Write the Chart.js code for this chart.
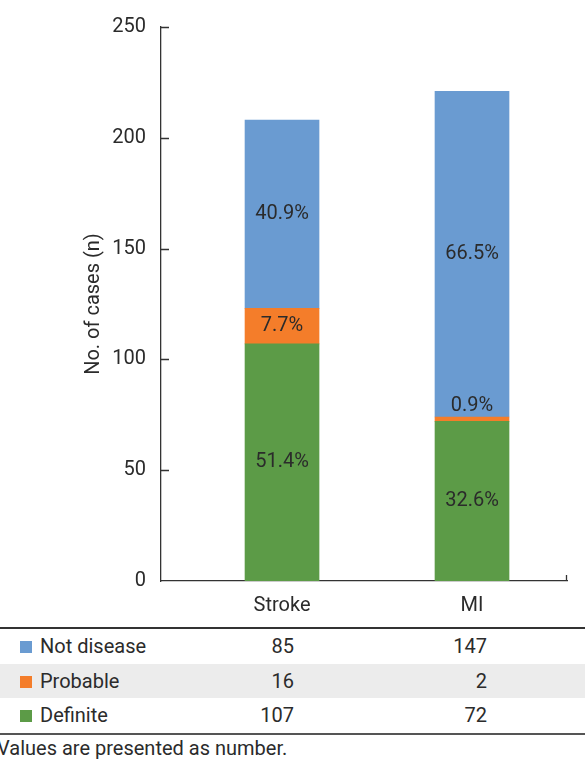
<!DOCTYPE html>
<html>
<head>
<meta charset="utf-8">
<script src="https://cdn.jsdelivr.net/npm/chart.js@4.4.0/dist/chart.umd.min.js"></script>
<style>
  body { margin: 0; background: #fff; font-family: "Liberation Sans Narrow", "Roboto", sans-serif; color: #2b2b2b; }
  #wrap { position: relative; width: 585px; height: 762px; overflow: hidden; }
  #chart { position: absolute; left: 0; top: 0; }
  #tbl { position: absolute; left: 0; top: 627px; width: 585px; border-top: 2px solid #333; border-bottom: 2px solid #555; }
  .row { position: relative; height: 34.5px; font-size: 20px; line-height: 34.5px; }
  .row.alt { background: #ececec; }
  .mark { position: absolute; left: 20px; top: 12px; width: 12px; height: 12px; }
  .name { position: absolute; left: 40px; }
  .val { position: absolute; text-align: right; width: 60px; }
  #note { position: absolute; left: -3px; top: 736px; font-size: 20px; }
</style>
</head>
<body>
<div id="wrap">
  <canvas id="chart" width="585" height="623"></canvas>
  <div id="tbl"></div>
  <div id="note">Values are presented as number.</div>
</div>
<script>
var categories = ["Stroke", "MI"];
var definite = [107, 72];
var probable = [16, 2];
var notDisease = [85, 147];
var yTicks = [0, 50, 100, 150, 200, 250];

var series = [
    { label: "Definite", data: definite, color: "#5c9b47" },
    { label: "Probable", data: probable, color: "#f47d2a" },
    { label: "Not disease", data: notDisease, color: "#6a9bd1" }
];

var fontName = '"Liberation Sans Narrow", "Roboto", sans-serif';
var textColor = "#2b2b2b";

// percentage labels drawn inside each segment
var pctLabels = {
    id: "pctLabels",
    afterDatasetsDraw: function (chart) {
        var ctx = chart.ctx;
        ctx.save();
        ctx.font = "20px " + fontName;
        ctx.fillStyle = textColor;
        ctx.textAlign = "center";
        ctx.textBaseline = "middle";
        chart.data.datasets.forEach(function (ds, di) {
            chart.getDatasetMeta(di).data.forEach(function (bar, i) {
                var total = 0;
                series.forEach(function (s) { total += s.data[i]; });
                var txt = (ds.data[i].y / total * 100).toFixed(1) + "%";
                var h = bar.base - bar.y;
                var y = h < 20 ? bar.y - 11 : (bar.y + bar.base) / 2;
                ctx.fillText(txt, bar.x, y);
            });
        });
        ctx.restore();
    }
};

// inward ticks on the y axis and the little end tick on x
var axisMarks = {
    id: "axisMarks",
    afterDraw: function (chart) {
        var ctx = chart.ctx, ya = chart.scales.y, area = chart.chartArea;
        ctx.save();
        ctx.strokeStyle = "#333";
        ctx.lineWidth = 1.3;
        ctx.beginPath();
        yTicks.forEach(function (v) {
            if (v === 0) return;
            var p = Math.round(ya.getPixelForValue(v)) + 0.5;
            ctx.moveTo(area.left, p);
            ctx.lineTo(area.left + 8, p);
        });
        ctx.moveTo(area.right - 0.5, area.bottom);
        ctx.lineTo(area.right - 0.5, area.bottom - 6);
        ctx.stroke();
        ctx.restore();
    }
};

new Chart(document.getElementById("chart"), {
    type: "bar",
    data: {
        datasets: series.map(function (s) {
            return {
                label: s.label,
                data: s.data.map(function (v, i) { return { x: i, y: v }; }),
                backgroundColor: s.color,
                borderWidth: 0,
                barThickness: 74
            };
        })
    },
    options: {
        responsive: false,
        animation: false,
        layout: { padding: { top: 26, right: 18, bottom: 0, left: 0 } },
        plugins: { legend: { display: false }, tooltip: { enabled: false } },
        scales: {
            x: {
                type: "linear",
                stacked: true,
                offset: false,
                min: -0.637,
                max: 1.5,
                afterBuildTicks: function (scale) {
                    scale.ticks = categories.map(function (c, i) { return { value: i }; });
                },
                ticks: {
                    autoSkip: false,
                    padding: 5,
                    color: textColor,
                    font: { family: fontName, size: 20 },
                    callback: function (v) { return categories[v]; }
                },
                grid: { display: false, offset: false },
                border: { display: true, color: "#333", width: 1.3 }
            },
            y: {
                stacked: true,
                min: 0,
                max: 250,
                afterBuildTicks: function (scale) {
                    scale.ticks = yTicks.map(function (v) { return { value: v }; });
                },
                afterFit: function (scale) { scale.width = 161; },
                ticks: {
                    padding: 15,
                    color: textColor,
                    font: { family: fontName, size: 20 }
                },
                grid: { display: false, drawTicks: false },
                border: { display: true, color: "#333", width: 1.3 },
                title: {
                    display: true,
                    text: "No. of cases (n)",
                    color: textColor,
                    font: { family: fontName, size: 20 },
                    padding: { top: 82, bottom: 0 }
                }
            }
        }
    },
    plugins: [pctLabels, axisMarks]
});

// table under the chart, same arrays, top row first
var tbl = document.getElementById("tbl");
var valRight = [294, 487];
series.slice().reverse().forEach(function (s, r) {
    var row = document.createElement("div");
    row.className = "row" + (r === 1 ? " alt" : "");
    var html = '<span class="mark" style="background:' + s.color + '"></span>' +
        '<span class="name">' + s.label + '</span>';
    s.data.forEach(function (v, i) {
        html += '<span class="val" style="left:' + (valRight[i] - 60) + 'px">' + v + '</span>';
    });
    row.innerHTML = html;
    tbl.appendChild(row);
});
</script>
</body>
</html>
